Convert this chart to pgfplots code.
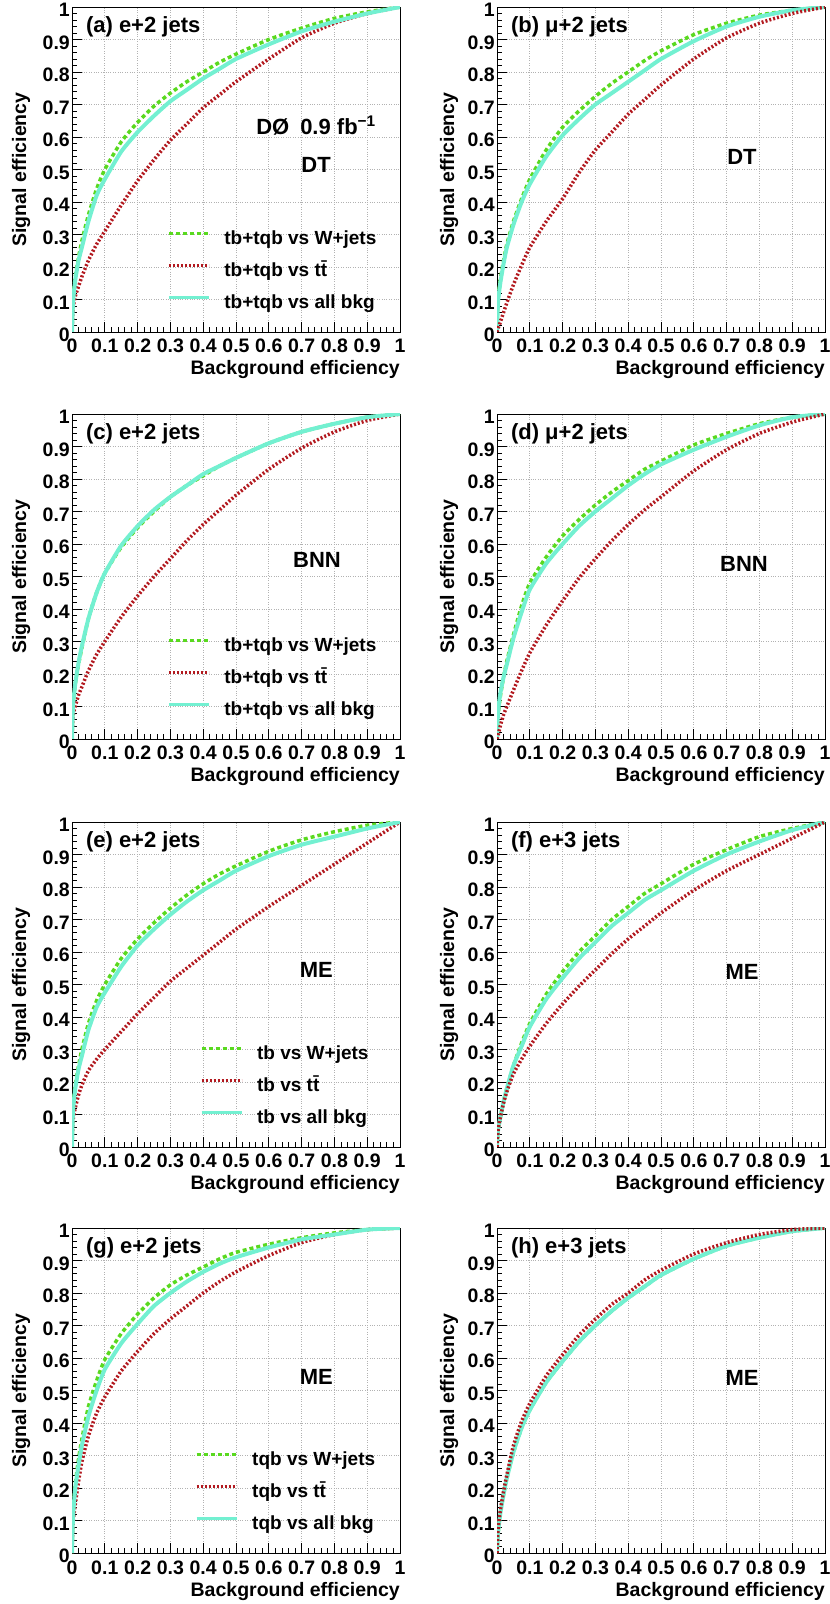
\documentclass[border=0pt]{standalone}
\usepackage{fontspec}
\setmainfont{Liberation Sans}
\usepackage{pgfplots}
\usepackage{pgfplotstable}
\pgfplotsset{compat=1.18}

\definecolor{wjcol}{rgb}{0.35,0.85,0.12}
\definecolor{ttcol}{rgb}{0.70,0.10,0.12}
\definecolor{allcol}{rgb}{0.45,0.94,0.82}

\newcommand\tickfont{\fontsize{19.5}{19.5}\selectfont\bfseries}
\newcommand\titlefont{\fontsize{19.5}{19.5}\selectfont\bfseries}
\newcommand\legfont{\fontsize{19}{19}\selectfont\bfseries}
\newcommand\panelfont{\fontsize{22}{22}\selectfont\bfseries}
\newcommand\methfont{\fontsize{22}{22}\selectfont\bfseries}
\newcommand\ttbar{t\={t}}

% ROC curves: background efficiency vs signal efficiency
% columns: bkg, signal eff. vs W+jets, vs ttbar, vs all backgrounds
\pgfplotstableread{
bkg   wjets ttbar all
0     0     0     0
0.003 0.10  0.07  0.09
0.01  0.17  0.11  0.16
0.02  0.23  0.14  0.22
0.03  0.28  0.17  0.26
0.05  0.36  0.22  0.34
0.075 0.44  0.27  0.42
0.1   0.50  0.31  0.47
0.15  0.585 0.39  0.555
0.2   0.645 0.465 0.615
0.25  0.695 0.53  0.665
0.3   0.735 0.59  0.71
0.35  0.77  0.64  0.745
0.4   0.80  0.69  0.78
0.45  0.83  0.73  0.81
0.5   0.855 0.77  0.84
0.6   0.90  0.84  0.885
0.7   0.935 0.905 0.925
0.8   0.965 0.95  0.955
0.9   0.985 0.98  0.98
1     1     1     1
}\rocA
\pgfplotstableread{
bkg   wjets ttbar all
0     0     0     0
0.003 0.10  0.01  0.09
0.01  0.16  0.03  0.15
0.02  0.22  0.06  0.21
0.03  0.27  0.09  0.26
0.05  0.34  0.145 0.33
0.075 0.41  0.205 0.40
0.1   0.47  0.26  0.455
0.15  0.56  0.34  0.54
0.2   0.63  0.41  0.605
0.25  0.68  0.49  0.655
0.3   0.725 0.56  0.70
0.35  0.765 0.615 0.735
0.4   0.80  0.67  0.77
0.45  0.835 0.715 0.805
0.5   0.865 0.76  0.84
0.6   0.915 0.84  0.895
0.7   0.95  0.905 0.94
0.8   0.975 0.95  0.97
0.9   0.99  0.98  0.99
1     1     1     1
}\rocB
\pgfplotstableread{
bkg   wjets ttbar all
0     0     0     0
0.003 0.10  0.07  0.10
0.01  0.17  0.10  0.17
0.02  0.23  0.135 0.235
0.03  0.28  0.16  0.285
0.05  0.37  0.21  0.37
0.075 0.45  0.26  0.45
0.1   0.51  0.30  0.51
0.15  0.59  0.375 0.595
0.2   0.65  0.44  0.655
0.25  0.70  0.50  0.705
0.3   0.745 0.555 0.745
0.35  0.78  0.61  0.78
0.4   0.81  0.66  0.815
0.45  0.84  0.705 0.84
0.5   0.865 0.75  0.865
0.6   0.91  0.83  0.91
0.7   0.945 0.895 0.945
0.8   0.97  0.945 0.97
0.9   0.99  0.98  0.99
1     1     1     1
}\rocC
\pgfplotstableread{
bkg   wjets ttbar all
0     0     0     0
0.003 0.07  0.01  0.08
0.01  0.13  0.04  0.14
0.02  0.19  0.075 0.19
0.03  0.24  0.10  0.23
0.05  0.32  0.15  0.31
0.075 0.41  0.21  0.39
0.1   0.48  0.265 0.46
0.15  0.56  0.35  0.54
0.2   0.625 0.425 0.60
0.25  0.675 0.495 0.655
0.3   0.72  0.555 0.70
0.35  0.76  0.61  0.74
0.4   0.795 0.66  0.78
0.45  0.83  0.705 0.815
0.5   0.855 0.745 0.845
0.6   0.905 0.825 0.89
0.7   0.94  0.89  0.93
0.8   0.97  0.94  0.965
0.9   0.99  0.975 0.99
1     1     1     1
}\rocD
\pgfplotstableread{
bkg   wjets ttbar all
0     0     0     0
0.003 0.12  0.08  0.11
0.01  0.19  0.12  0.18
0.02  0.25  0.16  0.24
0.03  0.30  0.19  0.28
0.05  0.38  0.235 0.36
0.075 0.45  0.27  0.43
0.1   0.50  0.30  0.475
0.15  0.58  0.355 0.555
0.2   0.64  0.41  0.62
0.25  0.69  0.46  0.67
0.3   0.735 0.51  0.715
0.35  0.775 0.55  0.755
0.4   0.81  0.59  0.79
0.45  0.84  0.63  0.82
0.5   0.865 0.67  0.85
0.6   0.91  0.74  0.895
0.7   0.945 0.805 0.93
0.8   0.97  0.87  0.955
0.9   0.99  0.935 0.98
1     1     1     1
}\rocE
\pgfplotstableread{
bkg   wjets ttbar all
0     0     0     0
0.003 0.05  0.05  0.05
0.01  0.09  0.09  0.09
0.02  0.14  0.135 0.14
0.03  0.18  0.17  0.18
0.05  0.25  0.225 0.25
0.075 0.32  0.27  0.31
0.1   0.38  0.31  0.37
0.15  0.47  0.38  0.455
0.2   0.54  0.44  0.52
0.25  0.60  0.495 0.58
0.3   0.65  0.545 0.63
0.35  0.70  0.595 0.68
0.4   0.74  0.64  0.72
0.45  0.78  0.68  0.76
0.5   0.81  0.72  0.79
0.6   0.87  0.79  0.85
0.7   0.915 0.85  0.90
0.8   0.955 0.90  0.94
0.9   0.98  0.95  0.975
1     1     1     1
}\rocF
\pgfplotstableread{
bkg   wjets ttbar all
0     0     0     0
0.003 0.12  0.09  0.11
0.01  0.21  0.15  0.20
0.02  0.29  0.22  0.27
0.03  0.35  0.28  0.33
0.05  0.45  0.36  0.42
0.075 0.53  0.43  0.50
0.1   0.595 0.48  0.565
0.15  0.675 0.56  0.645
0.2   0.735 0.62  0.705
0.25  0.785 0.675 0.76
0.3   0.825 0.72  0.80
0.35  0.855 0.76  0.835
0.4   0.88  0.80  0.865
0.45  0.905 0.835 0.89
0.5   0.925 0.865 0.91
0.6   0.95  0.915 0.94
0.7   0.97  0.955 0.965
0.8   0.985 0.98  0.98
0.9   0.995 0.995 0.995
1     1     1     1
}\rocG
\pgfplotstableread{
bkg   wjets ttbar all
0     0     0     0
0.003 0.06  0.07  0.06
0.01  0.12  0.13  0.12
0.02  0.18  0.19  0.18
0.03  0.23  0.24  0.23
0.05  0.31  0.33  0.31
0.075 0.385 0.405 0.385
0.1   0.44  0.46  0.44
0.15  0.525 0.545 0.525
0.2   0.59  0.61  0.59
0.25  0.65  0.67  0.65
0.3   0.70  0.72  0.70
0.35  0.745 0.765 0.745
0.4   0.785 0.80  0.785
0.45  0.82  0.84  0.82
0.5   0.855 0.87  0.855
0.6   0.905 0.92  0.905
0.7   0.945 0.955 0.945
0.8   0.97  0.98  0.97
0.9   0.99  0.995 0.99
1     1     1     1
}\rocH

\pgfplotsset{
  roc/.style={
    scale only axis, width=328pt, height=325pt,
    xmin=0, xmax=1, ymin=0, ymax=1,
    xtick={0,0.1,0.2,0.3,0.4,0.5,0.6,0.7,0.8,0.9,1},
    ytick={0,0.1,0.2,0.3,0.4,0.5,0.6,0.7,0.8,0.9,1},
    xticklabels={0,0.1,0.2,0.3,0.4,0.5,0.6,0.7,0.8,0.9,1},
    yticklabels={0,0.1,0.2,0.3,0.4,0.5,0.6,0.7,0.8,0.9,1},
    minor x tick num=4, minor y tick num=4,
    tick align=inside, tick pos=left,
    major tick length=10pt, minor tick length=5pt,
    tick style={black, line width=0.8pt},
    grid=major, major grid style={gray!60, dotted, line width=0.9pt},
    axis line style={black, line width=0.8pt},
    xticklabel style={font=\tickfont, inner sep=0pt, anchor=base, yshift=-21pt},
    yticklabel style={font=\tickfont, inner sep=0pt, anchor=east, xshift=-2pt, yshift=-3pt},
    xlabel={Background efficiency}, ylabel={Signal efficiency},
    every axis x label/.style={at={(rel axis cs:1,0)}, anchor=base east,
      yshift=-43pt, font=\titlefont, inner sep=0pt},
    every axis y label/.style={at={(rel axis cs:-0.155,0.5)}, anchor=center,
      rotate=90, font=\titlefont, inner sep=0pt},
    legend style={draw=none, fill=none, at={(rel axis cs:0.29,0.312)},
      anchor=north west, font=\legfont, inner sep=0pt, row sep=14.5pt,
      nodes={inner sep=0pt, text height=13.5pt, text depth=4pt},
      /tikz/every odd column/.append style={column sep=14pt}},
    legend cell align=left,
    legend image code/.code={\draw[#1, line width=3pt] (0pt,6.5pt) -- (40pt,6.5pt);},
  },
  rightcol/.style={every axis y label/.append style={at={(rel axis cs:-0.146,0.5)}}},
  wj/.style={wjcol, line width=3.5pt, dash pattern=on 4pt off 3pt, smooth, tension=0.35},
  tt/.style={ttcol, line width=3.5pt, dash pattern=on 2pt off 2pt, smooth, tension=0.35},
  al/.style={allcol, line width=4pt, smooth, tension=0.35},
}

\begin{document}
\begin{tikzpicture}
\useasboundingbox (0pt,0pt) rectangle (830pt,1604pt);

% (a) DT, e+2 jets
\begin{axis}[roc, at={(72pt,1272pt)}, anchor=south west]
\addplot[wj] table[x=bkg,y=wjets] {\rocA};
\addplot[tt] table[x=bkg,y=ttbar] {\rocA};
\addplot[al] table[x=bkg,y=all] {\rocA};
\legend{tb+tqb vs W+jets, tb+tqb vs \ttbar, tb+tqb vs all bkg}
\node[anchor=base west, font=\panelfont] at (axis cs:0.032,0.923) {(a) e+2 jets};
\node[font=\methfont] at (axis cs:0.744,0.635) {DØ\enspace 0.9 fb\textsuperscript{−1}};
\node[font=\methfont] at (axis cs:0.744,0.515) {DT};
\end{axis}

% (b) DT, mu+2 jets
\begin{axis}[roc, rightcol, at={(497pt,1272pt)}, anchor=south west]
\addplot[wj] table[x=bkg,y=wjets] {\rocB};
\addplot[al] table[x=bkg,y=all] {\rocB};
\addplot[tt] table[x=bkg,y=ttbar] {\rocB};
\node[anchor=base west, font=\panelfont] at (axis cs:0.032,0.923) {(b) μ+2 jets};
\node[font=\methfont] at (axis cs:0.747,0.54) {DT};
\end{axis}

% (c) BNN, e+2 jets
\begin{axis}[roc, at={(72pt,865pt)}, anchor=south west]
\addplot[wj] table[x=bkg,y=wjets] {\rocC};
\addplot[tt] table[x=bkg,y=ttbar] {\rocC};
\addplot[al] table[x=bkg,y=all] {\rocC};
\legend{tb+tqb vs W+jets, tb+tqb vs \ttbar, tb+tqb vs all bkg}
\node[anchor=base west, font=\panelfont] at (axis cs:0.032,0.923) {(c) e+2 jets};
\node[font=\methfont] at (axis cs:0.747,0.55) {BNN};
\end{axis}

% (d) BNN, mu+2 jets
\begin{axis}[roc, rightcol, at={(497pt,865pt)}, anchor=south west]
\addplot[wj] table[x=bkg,y=wjets] {\rocD};
\addplot[al] table[x=bkg,y=all] {\rocD};
\addplot[tt] table[x=bkg,y=ttbar] {\rocD};
\node[anchor=base west, font=\panelfont] at (axis cs:0.032,0.923) {(d) μ+2 jets};
\node[font=\methfont] at (axis cs:0.753,0.54) {BNN};
\end{axis}

% (e) ME, e+2 jets, tb
\begin{axis}[roc, at={(72pt,457pt)}, anchor=south west,
  legend style={at={(rel axis cs:0.39,0.312)}}]
\addplot[wj] table[x=bkg,y=wjets] {\rocE};
\addplot[tt] table[x=bkg,y=ttbar] {\rocE};
\addplot[al] table[x=bkg,y=all] {\rocE};
\legend{tb vs W+jets, tb vs \ttbar, tb vs all bkg}
\node[anchor=base west, font=\panelfont] at (axis cs:0.032,0.923) {(e) e+2 jets};
\node[font=\methfont] at (axis cs:0.745,0.545) {ME};
\end{axis}

% (f) ME, e+3 jets, tb
\begin{axis}[roc, rightcol, at={(497pt,457pt)}, anchor=south west]
\addplot[wj] table[x=bkg,y=wjets] {\rocF};
\addplot[al] table[x=bkg,y=all] {\rocF};
\addplot[tt] table[x=bkg,y=ttbar] {\rocF};
\node[anchor=base west, font=\panelfont] at (axis cs:0.032,0.923) {(f) e+3 jets};
\node[font=\methfont] at (axis cs:0.747,0.54) {ME};
\end{axis}

% (g) ME, e+2 jets, tqb
\begin{axis}[roc, at={(72pt,51pt)}, anchor=south west,
  legend style={at={(rel axis cs:0.375,0.312)}}]
\addplot[wj] table[x=bkg,y=wjets] {\rocG};
\addplot[tt] table[x=bkg,y=ttbar] {\rocG};
\addplot[al] table[x=bkg,y=all] {\rocG};
\legend{tqb vs W+jets, tqb vs \ttbar, tqb vs all bkg}
\node[anchor=base west, font=\panelfont] at (axis cs:0.032,0.923) {(g) e+2 jets};
\node[font=\methfont] at (axis cs:0.745,0.543) {ME};
\end{axis}

% (h) ME, e+3 jets, tqb
\begin{axis}[roc, rightcol, at={(497pt,51pt)}, anchor=south west]
\addplot[wj] table[x=bkg,y=wjets] {\rocH};
\addplot[al] table[x=bkg,y=all] {\rocH};
\addplot[tt] table[x=bkg,y=ttbar] {\rocH};
\node[anchor=base west, font=\panelfont] at (axis cs:0.032,0.923) {(h) e+3 jets};
\node[font=\methfont] at (axis cs:0.747,0.54) {ME};
\end{axis}
\end{tikzpicture}
\end{document}
